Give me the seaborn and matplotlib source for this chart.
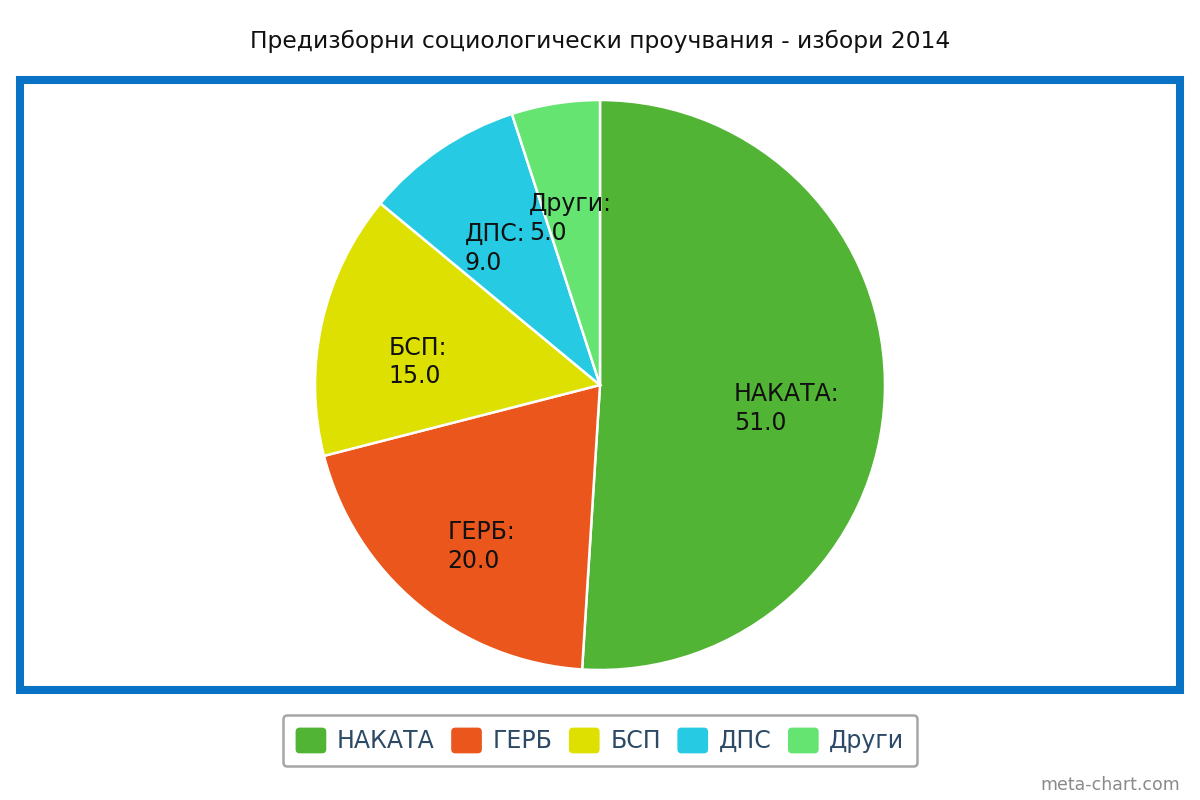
import matplotlib
matplotlib.use("Agg")
import matplotlib.pyplot as plt
import numpy as np
import seaborn as sns
from matplotlib.patches import Rectangle, Patch, FancyBboxPatch
from matplotlib.legend_handler import HandlerPatch

# data
parties = ["НАКАТА", "ГЕРБ", "БСП", "ДПС", "Други"]
values = [51.0, 20.0, 15.0, 9.0, 5.0]
colors = ["#52b435", "#eb561c", "#dde000", "#26cbe3", "#66e472"]
title = "Предизборни социологически проучвания - избори 2014"

sns.set_theme(style="white")
plt.rcParams["font.family"] = ["DejaVu Sans"]


class RoundBox(HandlerPatch):
    # legend swatch with slightly rounded corners
    def create_artists(self, legend, orig_handle, xdescent, ydescent,
                       width, height, fontsize, trans):
        p = FancyBboxPatch((-xdescent, -ydescent), width, height,
                           boxstyle="round,pad=0,rounding_size=3",
                           facecolor=orig_handle.get_facecolor(),
                           edgecolor="none", transform=trans)
        return [p]


fig = plt.figure(figsize=(12, 8), dpi=100)
fig.patch.set_facecolor("white")

# blue frame
frame = Rectangle((20 / 1200, 110 / 800), 1160 / 1200, 610 / 800,
                  transform=fig.transFigure, fill=False,
                  edgecolor="#0872c4", linewidth=5.8, zorder=0)
fig.patches.append(frame)

# pie axes: center (600,385) px, radius 285 px
ax = fig.add_axes([300 / 1200, 115 / 800, 600 / 1200, 600 / 800])
wedges, _ = ax.pie(values, colors=colors, startangle=90, counterclock=False,
                   radius=1.0,
                   wedgeprops=dict(edgecolor="white", linewidth=1.8))
lim = 300 / 285
ax.set_xlim(-lim, lim)
ax.set_ylim(-lim, lim)
ax.set_aspect("equal")
ax.axis("off")

# slice labels: first line centred on a point at ~0.655 r
total = sum(values)
cum = 0
for name, v in zip(parties, values):
    mid = 90 - (cum + v / 2) / total * 360
    cum += v
    a = np.deg2rad(mid)
    x, y = 0.655 * np.cos(a), 0.655 * np.sin(a)
    ax.text(x, y + 0.03, f"{name}:\n{v:.1f}", ha="center", va="top",
            multialignment="left", fontsize=17, color="#111111",
            linespacing=1.25)

fig.text(0.5, 1 - 41 / 800, title, ha="center", va="center",
         fontsize=16.8, color="#111111")

handles = [Patch(facecolor=c, edgecolor=c) for c in colors]
leg = fig.legend(handles, parties, loc="center", bbox_to_anchor=(0.5, 59.5 / 800),
                 ncol=5, frameon=True, fancybox=True, fontsize=17,
                 handlelength=1.3, handleheight=1.3, handletextpad=0.45,
                 columnspacing=0.7, borderpad=0.55, labelcolor="#2c4a66",
                 handler_map={Patch: RoundBox()})
leg.get_frame().set_edgecolor("#909090")
leg.get_frame().set_linewidth(1.8)

fig.text(1180 / 1200, 1 - 785 / 800, "meta-chart.com", ha="right", va="center",
         fontsize=12.5, color="#8a8a8a")

fig.savefig("out.png", dpi=100, facecolor="white")
